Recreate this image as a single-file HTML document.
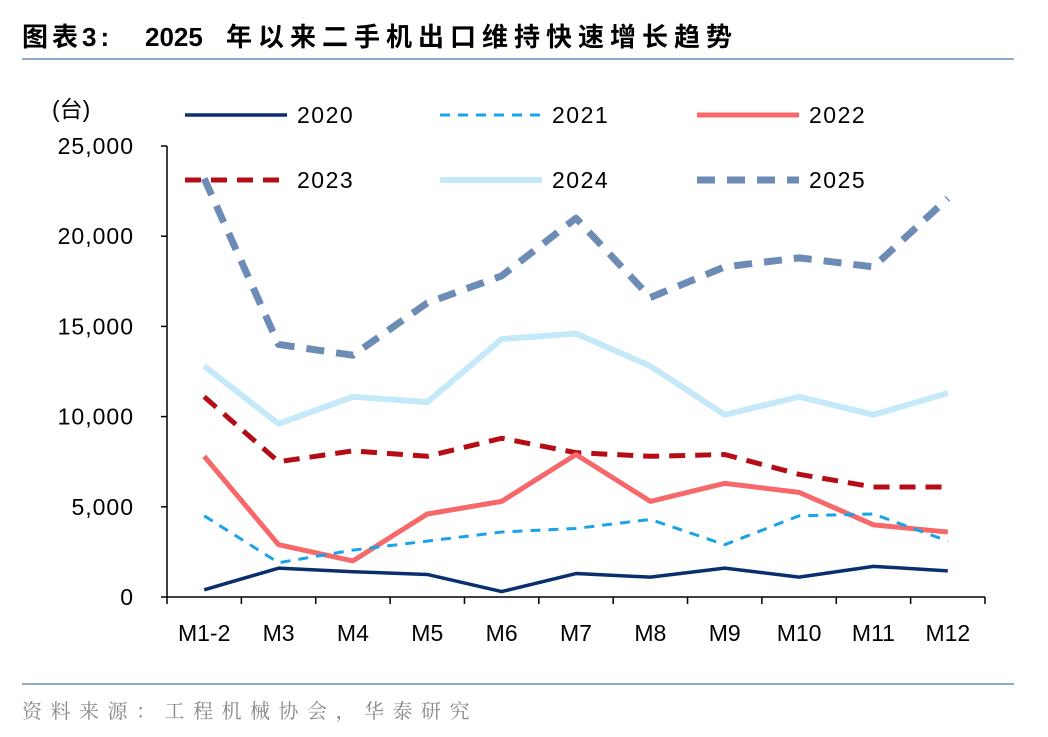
<!DOCTYPE html>
<html><head><meta charset="utf-8"><style>
body{margin:0;background:#fff;width:1048px;height:732px;overflow:hidden;font-family:"Liberation Sans","Noto Sans CJK SC",sans-serif;}
svg text{font-family:"Liberation Sans","Noto Sans CJK SC",sans-serif;}
</style></head><body>
<svg id="chart" width="1048" height="732">
<text y="46" font-size="26" font-weight="bold" fill="#000"><tspan x="22" letter-spacing="4">图表3:</tspan><tspan x="145">2025</tspan><tspan x="226" letter-spacing="6">年以来二手机出口维持快速增长趋势</tspan></text>
<rect x="22" y="58" width="992" height="2" fill="#8faac8"/>
<rect x="22" y="683" width="992" height="2" fill="#8faac8"/>
<text x="22" y="718" font-size="20" letter-spacing="8.5" fill="#888" style="font-family:'Liberation Serif','Noto Serif CJK SC',serif">资料来源：工程机械协会，华泰研究</text>
<text x="52" y="117" font-size="23" fill="#000">(台)</text>
<g id="axes"></g><g id="series"></g><g id="legend"></g>
</svg>
<script>
const categories=["M1-2","M3","M4","M5","M6","M7","M8","M9","M10","M11","M12"];
const yTicks=[0,5000,10000,15000,20000,25000];
const yTickLabels=["0","5,000","10,000","15,000","20,000","25,000"];
const s2020=[400,1600,1400,1250,300,1300,1100,1600,1100,1700,1450];
const s2021=[4500,1900,2600,3100,3600,3800,4300,2900,4500,4600,3100];
const s2022=[7800,2900,2000,4600,5300,7900,5300,6300,5800,4000,3600];
const s2023=[11100,7500,8100,7800,8800,8000,7800,7900,6800,6100,6100];
const s2024=[12800,9600,11100,10800,14300,14600,12800,10100,11100,10100,11300];
const s2025=[23200,14000,13400,16300,17800,21000,16600,18300,18800,18300,22100];
const NS="http://www.w3.org/2000/svg";
const x0=167,x1=985,y0=597,y1=146;
const step=(x1-x0)/categories.length;
const X=i=>x0+step*(i+0.5);
const Y=v=>y0-(v/25000)*(y0-y1);
function mk(t,a,p){const e=document.createElementNS(NS,t);for(const k in a)e.setAttribute(k,a[k]);p.appendChild(e);return e;}
const ax=document.getElementById('axes');
let e=mk('line',{x1:x0,y1:y1,x2:x0,y2:y0,stroke:'#000','stroke-width':1.5},ax);


e=mk('line',{x1:x0,y1:y0,x2:x1,y2:y0,stroke:'#000','stroke-width':1.5},ax);


yTicks.forEach((v,i)=>{mk('line',{x1:x0-6,x2:x0,y1:Y(v),y2:Y(v),stroke:'#000','stroke-width':1.5},ax);
const t=mk('text',{x:x0-33,y:Y(v)+8,'font-size':23,'text-anchor':'end','letter-spacing':1},ax);t.textContent=yTickLabels[i];

});
for(let i=0;i<=categories.length;i++)mk('line',{x1:x0+step*i,x2:x0+step*i,y1:y0,y2:y0+7,stroke:'#000','stroke-width':1.5},ax);
categories.forEach((c,i)=>{const t=mk('text',{x:X(i),y:641,'font-size':23,'text-anchor':'middle'},ax);t.textContent=c;

});
const series=[
{n:'2020',d:s2020,c:'#0b2f6e',w:3.5,da:''},
{n:'2021',d:s2021,c:'#1aa3e8',w:3,da:'10,8'},
{n:'2022',d:s2022,c:'#f7686b',w:5,da:''},
{n:'2023',d:s2023,c:'#b40d16',w:5,da:'16,10'},
{n:'2024',d:s2024,c:'#c5e9f8',w:6,da:''},
{n:'2025',d:s2025,c:'#6c8bb5',w:7,da:'18,12'}];
const sg=document.getElementById('series');
[4,5,3,2,1,0].forEach(k=>{const s=series[k];
const p=mk('polyline',{points:s.d.map((v,i)=>X(i)+','+Y(v)).join(' '),fill:'none',stroke:s.c,'stroke-width':s.w,'stroke-dasharray':s.da,'stroke-linejoin':'round'},sg);

});
const lg=document.getElementById('legend');
const lx=[185,440,697],ly=[115,180];
series.forEach((s,i)=>{const x=lx[i%3],y=ly[Math.floor(i/3)];
const g=mk('g',{},lg);


mk('line',{x1:x,x2:x+102,y1:y,y2:y,stroke:s.c,'stroke-width':s.w,'stroke-dasharray':s.da},g);
const t=mk('text',{x:x+112,y:y+8,'font-size':23,'letter-spacing':1.5},g);t.textContent=s.n;});
</script>
</body></html>
